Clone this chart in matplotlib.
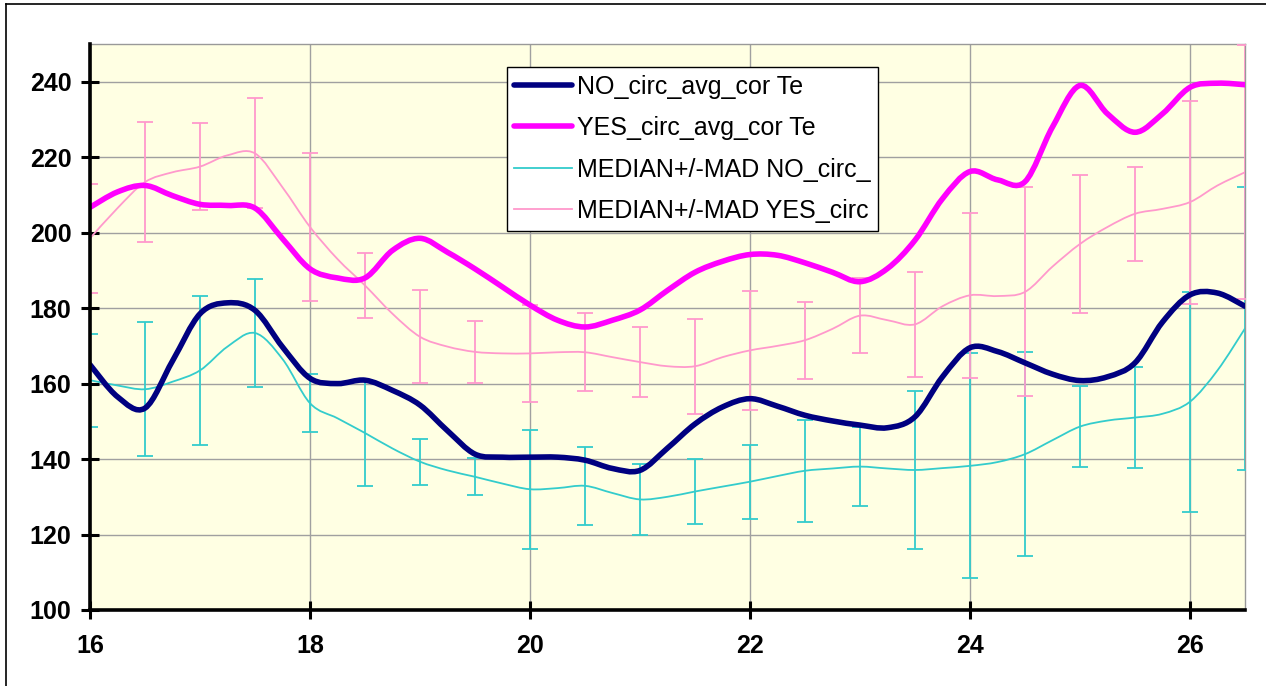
import numpy as np
import matplotlib
matplotlib.use('Agg')
from matplotlib import pyplot as plt
from matplotlib.path import Path
from matplotlib.patches import PathPatch
from matplotlib.lines import Line2D

plt.rcParams['font.family'] = ['Liberation Sans', 'DejaVu Sans']

# x grid of the series (every quarter unit), error bars every half unit
hours = np.arange(16, 26.51, 0.25)

no_avg = [165.0, 156.5, 153.5, 166.0, 178.5, 181.4, 179.4, 169.7, 161.4, 160.0,
          160.9, 158.2, 154.3, 147.5, 141.3, 140.5, 140.5, 140.5, 139.7, 137.5,
          137.0, 142.9, 149.3, 153.8, 156.0, 154.0, 151.6, 150.1, 149.0, 148.3,
          151.2, 161.8, 169.5, 168.5, 165.5, 162.5, 160.8, 161.8, 165.5, 176.3,
          183.5, 184.0, 180.5]

yes_avg = [206.7, 210.8, 212.5, 209.8, 207.5, 207.2, 206.5, 198.4, 190.4, 188.0,
           188.0, 195.3, 198.5, 194.8, 190.4, 185.6, 180.8, 176.8, 175.0, 176.8,
           179.5, 184.7, 189.5, 192.4, 194.2, 194.0, 192.0, 189.5, 187.0, 190.5,
           198.0, 209.0, 216.2, 214.0, 213.5, 228.0, 239.0, 231.5, 226.6, 231.5,
           238.5, 239.6, 239.2]

med_no = [160.9, 159.5, 158.5, 160.5, 163.5, 169.8, 173.4, 166.5, 154.8, 150.8,
          146.9, 142.8, 139.3, 137.0, 135.3, 133.5, 132.0, 132.3, 132.9, 131.0,
          129.3, 130.0, 131.4, 132.7, 134.0, 135.5, 136.9, 137.5, 138.0, 137.5,
          137.1, 137.6, 138.2, 139.2, 141.3, 145.0, 148.6, 150.2, 151.0, 152.0,
          155.2, 163.5, 174.6]

med_yes = [198.5, 206.5, 213.4, 216.0, 217.5, 220.5, 221.0, 212.0, 201.5, 193.0,
           186.0, 178.5, 172.4, 169.8, 168.4, 168.0, 168.0, 168.3, 168.3, 167.0,
           165.7, 164.6, 164.6, 167.0, 168.8, 170.0, 171.5, 174.5, 178.0, 176.8,
           175.7, 180.5, 183.4, 183.2, 184.3, 191.0, 197.0, 201.5, 205.0, 206.3,
           208.1, 212.5, 216.0]

mad_no = [12.3, 17.7, 19.7, 14.4, 7.7, 14.1, 6.1, 4.9, 15.8, 10.3, 9.3,
          8.7, 9.8, 13.5, 10.5, 21.0, 29.8, 27.1, 10.8, 13.5, 29.2, 37.4]
mad_yes = [14.5, 15.9, 11.5, 14.6, 19.5, 8.7, 12.3, 8.2, 12.9, 10.3, 9.2,
           12.6, 15.7, 10.2, 10.0, 13.9, 21.8, 27.7, 18.3, 12.5, 26.9, 33.7]

labels = ['NO_circ_avg_cor Te', 'YES_circ_avg_cor Te',
          'MEDIAN+/-MAD NO_circ_', 'MEDIAN+/-MAD YES_circ']

NAVY = '#000080'
MAGENTA = '#FF00FF'
CYAN = '#33CCCC'
PINK = '#FF99CC'


def smooth(x, y):                       # excel-like smoothed line as bezier path
    p = np.column_stack([x, y]).astype(float)
    n = len(p)
    verts = [p[0]]
    codes = [Path.MOVETO]
    for i in range(n - 1):
        p0 = p[i - 1] if i > 0 else p[i]
        p3 = p[i + 2] if i + 2 < n else p[i + 1]
        verts += [p[i] + (p[i + 1] - p0) / 6, p[i + 1] - (p3 - p[i]) / 6, p[i + 1]]
        codes += [Path.CURVE4] * 3
    return Path(verts, codes)


fig = plt.figure(figsize=(12.66, 6.86), dpi=100)
ax = fig.add_axes([0.0711, 0.1108, 0.9123, 0.8251])
ax.set_facecolor('#FFFFE3')

err_x = hours[::2]
ax.errorbar(err_x, med_no[::2], yerr=mad_no, fmt='none', ecolor=CYAN,
            elinewidth=1.3, capsize=5.5, capthick=1.3, zorder=3, clip_on=True)
ax.errorbar(err_x, med_yes[::2], yerr=mad_yes, fmt='none', ecolor=PINK,
            elinewidth=1.3, capsize=5.5, capthick=1.3, zorder=3, clip_on=True)

for vals, col, lw, z in [(med_no, CYAN, 1.3, 4), (med_yes, PINK, 1.3, 4),
                         (no_avg, NAVY, 4.0, 5), (yes_avg, MAGENTA, 4.0, 5)]:
    ax.add_patch(PathPatch(smooth(hours, vals), fill=False, edgecolor=col, lw=lw,
                           capstyle='round', joinstyle='round', zorder=z))

ax.set_xlim(16, 26.5)
ax.set_ylim(100, 250)
ax.set_xticks(np.arange(16, 27, 2))
ax.set_yticks(np.arange(100, 241, 20))
ax.grid(True, color='#A0A0A0', lw=1.0, zorder=1)
ax.set_axisbelow(True)

for s in ['left', 'bottom']:
    ax.spines[s].set_color('black')
    ax.spines[s].set_linewidth(2.6)
    ax.spines[s].set_zorder(6)
for s in ['top', 'right']:
    ax.spines[s].set_color('#999999')
    ax.spines[s].set_linewidth(1.0)

ax.tick_params(axis='both', direction='inout', length=13, width=2.2,
               labelsize=18)
ax.tick_params(axis='y', pad=7)
ax.tick_params(axis='x', pad=11)
for t in ax.get_xticklabels() + ax.get_yticklabels():
    t.set_fontweight('bold')

handles = [Line2D([], [], color=NAVY, lw=4.0, solid_capstyle='round'),
           Line2D([], [], color=MAGENTA, lw=4.0, solid_capstyle='round'),
           Line2D([], [], color=CYAN, lw=1.3),
           Line2D([], [], color=PINK, lw=1.3)]
leg = ax.legend(handles, labels, loc='upper left', bbox_to_anchor=(0.361, 0.959),
                fontsize=18, frameon=True, fancybox=False, framealpha=1,
                edgecolor='black', handlelength=2.3, handletextpad=0.2,
                labelspacing=0.7, borderpad=0.3, borderaxespad=0)
leg.get_frame().set_linewidth(1.0)
leg.set_zorder(10)

# outer chart border
fig.add_artist(Line2D([6 / 1266, 6 / 1266], [0, 1 - 4 / 686], color='black', lw=1.2))
fig.add_artist(Line2D([6 / 1266, 1], [1 - 4 / 686, 1 - 4 / 686], color='black', lw=1.2))

fig.savefig('out.png', dpi=100)
